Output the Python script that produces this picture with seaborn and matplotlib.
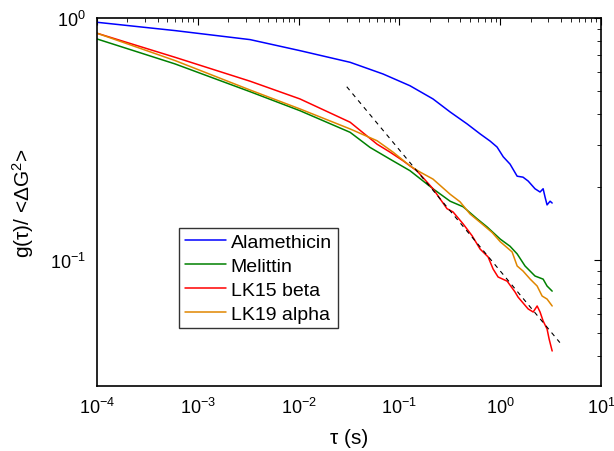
import seaborn as sns
import matplotlib.pyplot as plt
import pandas as pd

# values (tau in s, normalised autocorrelation)
tau_ala = [1e-4, 5.94e-4, 3.3e-3, 0.0103, 0.0324, 0.0687, 0.127, 0.215,
           0.318, 0.469, 0.631, 0.793, 0.929, 1.07, 1.25, 1.47, 1.68, 1.89, 2.21, 2.48, 2.66,
           2.78, 2.91, 3.12, 3.27]
g_ala = [0.96, 0.887, 0.814, 0.733, 0.656, 0.587, 0.525, 0.463,
         0.409, 0.365, 0.332, 0.310, 0.293, 0.267, 0.249, 0.222, 0.220, 0.212, 0.197, 0.191, 0.197,
         0.182, 0.169, 0.175, 0.172]

tau_mel = [1e-4, 5.94e-4, 3.3e-3, 0.0103, 0.0324, 0.051, 0.0807, 0.127, 0.215,
           0.318, 0.428, 0.589, 0.740, 1.0, 1.25, 1.47, 1.76, 2.21, 2.66, 2.91, 3.27]
g_mel = [0.819, 0.646, 0.496, 0.414, 0.337, 0.292, 0.261, 0.234, 0.197,
         0.175, 0.166, 0.148, 0.137, 0.122, 0.114, 0.106, 0.0945, 0.0859, 0.0834, 0.0781, 0.0744]

tau_lk15 = [1e-4, 5.94e-4, 3.3e-3, 0.0103, 0.0324, 0.060, 0.0807, 0.1087, 0.150, 0.215,
            0.296, 0.340, 0.428, 0.525, 0.631, 0.757, 0.849, 0.951, 1.17, 1.40, 1.50, 1.89, 2.12,
            2.32, 2.48, 2.66, 2.91, 3.05, 3.27]
g_lk15 = [0.865, 0.688, 0.548, 0.463, 0.371, 0.301, 0.279, 0.257, 0.233, 0.197,
          0.163, 0.158, 0.141, 0.126, 0.111, 0.103, 0.0918, 0.0851, 0.0818, 0.0738, 0.0703, 0.0628, 0.0610,
          0.0646, 0.0610, 0.0560, 0.0519, 0.0472, 0.0421]

tau_lk19 = [1e-4, 5.94e-4, 3.3e-3, 0.0103, 0.0324, 0.060, 0.0865, 0.127, 0.160, 0.215,
            0.318, 0.399, 0.501, 0.659, 0.829, 1.0, 1.31, 1.47, 1.68, 1.98, 2.32, 2.60, 2.91, 3.27]
g_lk19 = [0.865, 0.667, 0.504, 0.421, 0.348, 0.311, 0.279, 0.245, 0.231, 0.216,
          0.187, 0.174, 0.155, 0.141, 0.130, 0.119, 0.108, 0.0945, 0.0901, 0.0834, 0.0781, 0.0710, 0.0690, 0.0646]

# power-law guide line (dashed)
tau_fit = [0.030, 3.9]
g_fit = [0.52, 0.0456]

names = ['Alamethicin', 'Melittin', 'LK15 beta', 'LK19 alpha']
colors = ['#0000ff', '#008000', '#ff0000', '#e08600']

frames = []
for name, t, g in zip(names, [tau_ala, tau_mel, tau_lk15, tau_lk19], [g_ala, g_mel, g_lk15, g_lk19]):
    frames.append(pd.DataFrame({'tau': t, 'g': g, 'peptide': name}))
df = pd.concat(frames, ignore_index=True)

sns.set_style('white')
plt.rcParams['font.family'] = ['Liberation Sans', 'DejaVu Sans']
plt.rcParams['mathtext.fontset'] = 'custom'
plt.rcParams['mathtext.rm'] = 'Liberation Sans'
plt.rcParams['mathtext.it'] = 'Liberation Sans:italic'
plt.rcParams['text.color'] = 'black'
plt.rcParams['axes.labelcolor'] = 'black'

fig = plt.figure(figsize=(6.14, 4.52), dpi=100)
ax = fig.add_axes([0.158, 0.144, 0.821, 0.814])

sns.lineplot(data=df, x='tau', y='g', hue='peptide', hue_order=names, palette=colors,
             sort=False, estimator=None, linewidth=1.1, ax=ax)
ax.plot(tau_fit, g_fit, color='black', linestyle=(0, (4, 4)), linewidth=0.8)

ax.set_xscale('log')
ax.set_yscale('log')
ax.set_xlim(1e-4, 1e1)
ax.set_ylim(0.0302, 1.0)

ax.set_xlabel('τ (s)', fontsize=15, labelpad=8)
ax.set_ylabel('g(τ)/ <ΔG$^2$>', fontsize=15, labelpad=10)

for s in ax.spines.values():
    s.set_color('black')
    s.set_linewidth(1.2)
ax.tick_params(which='both', direction='in', top=True, right=True, labelsize=13, colors='black')
ax.tick_params(which='major', length=5, pad=8)
ax.tick_params(which='minor', length=3)

handles, labels = ax.get_legend_handles_labels()
leg = ax.legend(handles[:4], labels[:4], loc='upper left', bbox_to_anchor=(0.163, 0.43),
                fontsize=14, frameon=True, fancybox=False, edgecolor='black',
                handlelength=2.1, borderpad=0.3, labelspacing=0.32, handletextpad=0.25,
                borderaxespad=0)
leg.get_frame().set_linewidth(1.0)
for t in leg.get_texts():
    t.set_color('black')

fig.savefig('out.png', dpi=100)
